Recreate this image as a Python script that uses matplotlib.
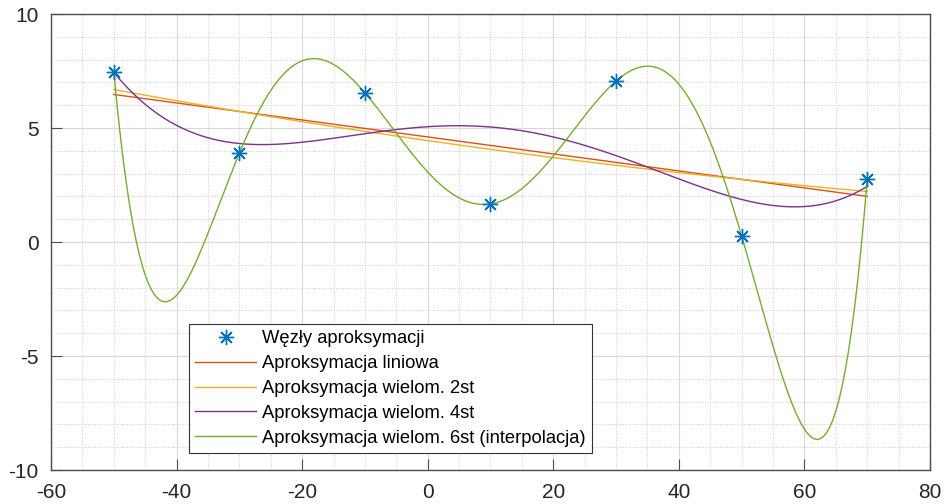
import numpy as np
import matplotlib
matplotlib.use("Agg")
import matplotlib.pyplot as plt
from matplotlib.ticker import MultipleLocator

# data: approximation nodes
x_nodes = [-50, -30, -10, 10, 30, 50, 70]
y_nodes = [7.46, 3.90, 6.54, 1.67, 7.06, 0.26, 2.76]
degrees = [1, 2, 4, 6]
labels = ["Węzły aproksymacji", "Aproksymacja liniowa", "Aproksymacja wielom. 2st",
          "Aproksymacja wielom. 4st", "Aproksymacja wielom. 6st (interpolacja)"]
colors = ["#0072BD", "#D95319", "#EDB120", "#7E2F8E", "#77AC30"]

plt.rcParams['font.family'] = ['Liberation Sans', 'DejaVu Sans']
plt.rcParams['axes.unicode_minus'] = False

fig = plt.figure(figsize=(9.44, 5.04), dpi=100)
ax = fig.add_axes([51/944, 1-470/504, (930-51)/944, (470-14)/504])

xn = np.array(x_nodes, dtype=float)
yn = np.array(y_nodes, dtype=float)
xs = np.arange(xn.min(), xn.max() + 0.25, 0.5)

ax.plot(xn, yn, linestyle='none', marker=(8, 2, 0), color=colors[0], markersize=11,
        markeredgewidth=1.0, label=labels[0], zorder=5)
for d, lab, c in zip(degrees, labels[1:], colors[1:]):
    p = np.polyfit(xn, yn, d)
    ax.plot(xs, np.polyval(p, xs), color=c, lw=1.0, label=lab)

ax.set_xlim(-60, 80)
ax.set_ylim(-10, 10)
ax.xaxis.set_major_locator(MultipleLocator(20))
ax.yaxis.set_major_locator(MultipleLocator(5))
ax.xaxis.set_minor_locator(MultipleLocator(5))
ax.yaxis.set_minor_locator(MultipleLocator(1))
ax.grid(True, which='major', color='#d8d8d8', lw=0.8, ls='-')
ax.grid(True, which='minor', color='#cfcfcf', lw=0.7, ls=(0, (1, 1.5)))
ax.set_axisbelow(True)
ax.tick_params(which='both', direction='in', top=False, right=False,
               labelsize=15, color='#4d4d4d', labelcolor='#262626')
ax.tick_params(axis='x', pad=9)
ax.tick_params(axis='y', pad=9)
ax.tick_params(which='major', length=8)
ax.tick_params(which='minor', length=0)
for s in ax.spines.values():
    s.set_color('#4d4d4d')
    s.set_linewidth(1.0)

leg = ax.legend(loc='lower left', bbox_to_anchor=(0.157, 0.037), fontsize=13.2,
                frameon=True, fancybox=False, edgecolor='#333333', framealpha=1,
                handlelength=3.3, handletextpad=0.35, borderpad=0.35, labelspacing=0.43,
                borderaxespad=0)
leg.get_frame().set_linewidth(0.8)

fig.savefig("out.png", dpi=100)
